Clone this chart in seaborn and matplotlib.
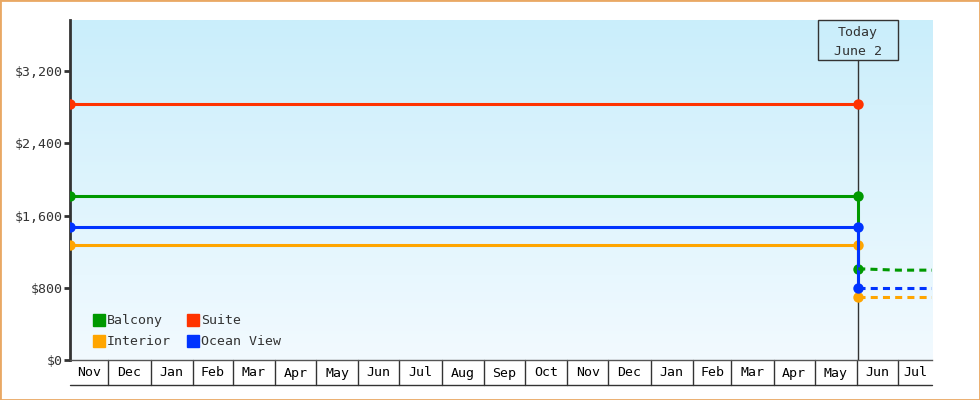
import numpy as np
import pandas as pd
import matplotlib
matplotlib.use('Agg')
import matplotlib.pyplot as plt
import matplotlib.dates as mdates
import matplotlib.transforms as mtransforms
from matplotlib.lines import Line2D
from matplotlib.patches import Rectangle
import seaborn as sns

# --- data ---
start_date = '2023-11-03'
today_date = '2025-06-02'
end_date = '2025-07-26'

tiers = ['Balcony', 'Interior', 'Suite', 'Ocean View']
tier_colors = ['#009900', '#ffa500', '#ff3300', '#0033ff']

# price held from start until today
price_before = [1815, 1275, 2830, 1470]
# price after today (None = no forecast)
price_today = [1010, 700, None, 800]
forecast_dates = ['2025-06-02', '2025-07-01', '2025-07-26']
forecast_balcony = [1010, 995, 995]
forecast_interior = [700, 700, 700]
forecast_ocean = [800, 800, 800]

yticks = [0, 800, 1600, 2400, 3200]
ymax = 3765

sns.set_style('white')
plt.rcParams['font.family'] = ['DejaVu Sans Mono', 'DejaVu Sans']
txt_color = '#333333'

fig = plt.figure(figsize=(9.8, 4), dpi=100)
ax = fig.add_axes([70 / 980, 40 / 400, 862 / 980, 340 / 400])

# gradient background
grad = np.linspace(0, 1, 256).reshape(-1, 1)
cmap = matplotlib.colors.LinearSegmentedColormap.from_list('bg', ['#f2faff', '#caeefb'])
ax.imshow(grad, cmap=cmap, aspect='auto', extent=[0, 1, 0, 1],
          transform=ax.transAxes, origin='lower', zorder=0)

t0 = pd.Timestamp(start_date)
t1 = pd.Timestamp(today_date)
t2 = pd.Timestamp(end_date)

# solid history lines with step at today
for name, col, before, after in zip(tiers, tier_colors, price_before, price_today):
    if after is None:
        d = pd.DataFrame({'date': [t0, t1], 'price': [before, before]})
    else:
        d = pd.DataFrame({'date': [t0, t1, t1], 'price': [before, before, after]})
    sns.lineplot(data=d, x='date', y='price', ax=ax, color=col, lw=2.2,
                 marker='o', markersize=7.5, markeredgewidth=0, estimator=None,
                 sort=False, zorder=3)

# dashed forecast lines
fc = {'Balcony': forecast_balcony, 'Interior': forecast_interior, 'Ocean View': forecast_ocean}
for name, col in zip(tiers, tier_colors):
    if name in fc:
        d = pd.DataFrame({'date': pd.to_datetime(forecast_dates), 'price': fc[name]})
        sns.lineplot(data=d, x='date', y='price', ax=ax, color=col, lw=2.2,
                     linestyle=(0, (2.3, 1.7)), estimator=None, sort=False, zorder=3)

ax.set_xlim(t0, t2)
ax.set_ylim(0, ymax)
ax.set_xlabel('')
ax.set_ylabel('')

ax.set_yticks(yticks)
ax.set_yticklabels(['${:,}'.format(v) for v in yticks])
ax.tick_params(axis='y', direction='out', length=4.5, width=2, color=txt_color,
               labelcolor=txt_color, labelsize=9.5, pad=1, left=True)
ax.set_xticks([])

for s in ['top', 'right']:
    ax.spines[s].set_visible(False)
ax.spines['left'].set_color(txt_color)
ax.spines['left'].set_linewidth(2)
ax.spines['bottom'].set_color('#555555')
ax.spines['bottom'].set_linewidth(1)

# month boxes below the axis
trans = mtransforms.blended_transform_factory(ax.transData, ax.transAxes)
box_bottom = -25 / 340
months = pd.date_range(t0.to_period('M').to_timestamp(), t2, freq='MS')
bounds = [t0] + [m for m in months if m > t0] + [t2]
for i in range(len(bounds) - 1):
    a, b = bounds[i], bounds[i + 1]
    xa, xb = mdates.date2num(a), mdates.date2num(b)
    ax.text((xa + xb) / 2, -13 / 340, a.strftime('%b'), transform=trans,
            ha='center', va='center', fontsize=9.5, color='black', clip_on=False)
    if i > 0:
        ax.add_line(Line2D([xa, xa], [0, box_bottom], transform=trans,
                           color='#333333', lw=1, clip_on=False))
ax.add_line(Line2D([0, 1], [box_bottom, box_bottom], transform=ax.transAxes,
                   color='#333333', lw=1, clip_on=False))

# today marker
xt = mdates.date2num(t1)
xc = (xt - mdates.date2num(t0)) / (mdates.date2num(t2) - mdates.date2num(t0))
ax.add_line(Line2D([xt, xt], [0, 300 / 340], transform=trans, color='#333333',
                   lw=1, zorder=2))
ax.add_patch(Rectangle((xc - 40 / 862, 300 / 340), 80 / 862, 40 / 340,
                       transform=ax.transAxes, fill=False, edgecolor='#333333',
                       lw=1, zorder=4, clip_on=False))
ax.text(xt, 318 / 340, 'Today\nJune 2', transform=trans, ha='center', va='center',
        fontsize=9.5, color=txt_color, linespacing=1.6, zorder=4)

# legend
handles = [Line2D([], [], marker='s', color=c, linestyle='none', markersize=8)
           for c in tier_colors]
ax.legend(handles, tiers, ncol=2, loc='lower left', bbox_to_anchor=(0.014, 0.0),
          frameon=False, fontsize=9.5, handlelength=0.7, handletextpad=0.25,
          columnspacing=1.35, labelspacing=0.6, labelcolor=txt_color)

fig.patches.append(Rectangle((0, 0), 1, 1, transform=fig.transFigure, fill=False,
                             edgecolor='#e9a864', lw=2))

fig.savefig('out.png', dpi=100)
